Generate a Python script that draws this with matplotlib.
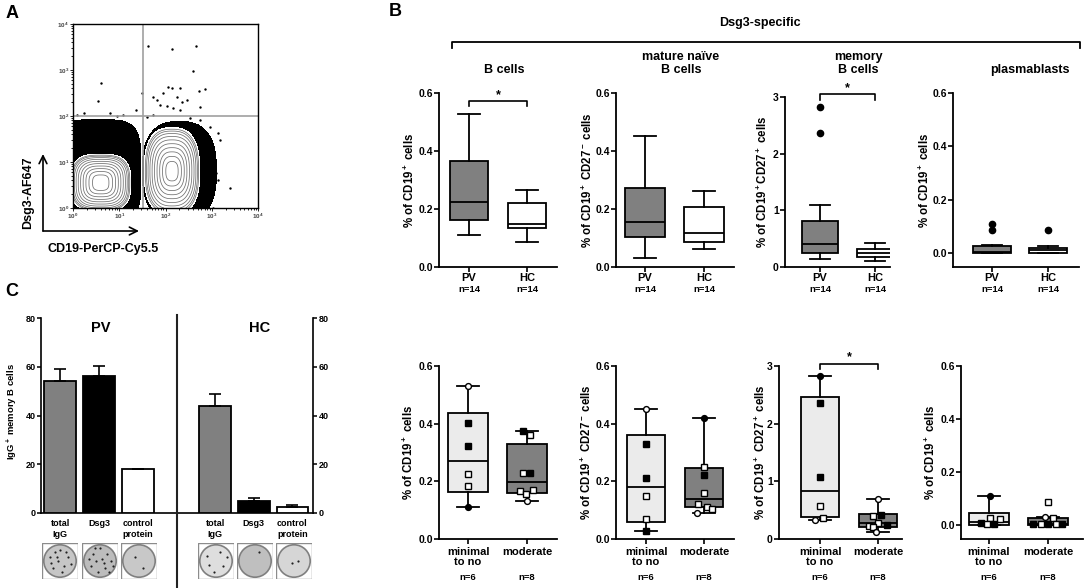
import numpy as np
import matplotlib
matplotlib.use('Agg')
from matplotlib import pyplot as plt
from matplotlib.patches import Circle, Rectangle
from matplotlib.lines import Line2D

plt.rcParams['font.family'] = ['Liberation Sans', 'DejaVu Sans']
plt.rcParams['font.weight'] = 'bold'
plt.rcParams['mathtext.fontset'] = 'custom'
plt.rcParams['mathtext.rm'] = 'Liberation Sans:bold'
plt.rcParams['mathtext.it'] = 'Liberation Sans:bold'
plt.rcParams['mathtext.bf'] = 'Liberation Sans:bold'
plt.rcParams['mathtext.default'] = 'rm'
plt.rcParams['axes.linewidth'] = 1.2

W, H = 1084, 588

# ---------------- data ----------------
# Panel A - flow plot, populations in log10 units:
# (centre x, centre y, half-width x, half-width y, shape exponent)
pop_dense = [(0.55, 0.80, 0.92, 1.12, 4.0), (2.30, 0.80, 0.80, 1.08, 2.6)]
pop_core = [(0.60, 0.55, 0.65, 0.62, 3.0), (2.14, 0.80, 0.60, 0.95, 2.6)]
# single events outside the dense area (log10 x, log10 y)
events_lx = [1.63, 2.15, 2.67, 2.59, 0.60, 0.55, 1.49, 2.06, 2.15, 2.31, 2.73, 2.85,
             1.72, 1.81, 1.95, 2.24, 2.35, 2.46, 2.03, 2.17, 2.31, 2.74, 1.88, 1.36,
             0.23, 0.80, 3.39, 3.03, 3.14, 2.96, 3.17, 3.10, 3.14, 3.07, 0.95, 1.09,
             0.09, 2.74, 2.53, 1.74, 1.59]
events_ly = [3.52, 3.45, 3.52, 2.97, 2.71, 2.33, 2.51, 2.63, 2.60, 2.60, 2.55, 2.58,
             2.41, 2.35, 2.50, 2.42, 2.31, 2.35, 2.21, 2.17, 2.13, 2.19, 2.24, 2.13,
             2.06, 2.06, 0.43, 0.00, 1.63, 1.77, 1.48, 0.76, 0.61, 1.05, 1.99, 2.03,
             2.03, 1.92, 1.95, 2.03, 1.97]
gate_x = 32
gate_y = 100

# Panel B - box plots (whisker low, q1, median, q3, whisker high)
top_groups = ['PV', 'HC']
top_n = ['n=14', 'n=14']
bot_groups = ['minimal\nto no', 'moderate']
bot_n = ['n=6', 'n=8']
title_line1 = ['', 'mature naïve', 'memory', '']
title_line2 = ['B cells', 'B cells', 'B cells', 'plasmablasts']
ylabels_top = [r'% of CD19$^+$ cells', r'% of CD19$^+$ CD27$^-$ cells',
               r'% of CD19$^+$CD27$^+$ cells', r'% of CD19$^+$ cells']
ylabels_bot = [r'% of CD19$^+$ cells', r'% of CD19$^+$ CD27$^-$ cells',
               r'% of CD19$^+$ CD27$^+$ cells', r'% of CD19$^+$ cells']

bcell_pv = [0.110, 0.163, 0.225, 0.365, 0.528]
bcell_hc = [0.087, 0.135, 0.150, 0.220, 0.267]
naive_pv = [0.032, 0.105, 0.154, 0.271, 0.452]
naive_hc = [0.062, 0.087, 0.117, 0.208, 0.262]
memory_pv = [0.14, 0.25, 0.41, 0.81, 1.09]
memory_hc = [0.11, 0.17, 0.25, 0.31, 0.43]
plasma_pv = [0.0, 0.0, 0.005, 0.026, 0.030]
plasma_hc = [0.0, 0.0, 0.010, 0.020, 0.025]
memory_pv_out = [2.83, 2.37]
plasma_pv_out = [0.110, 0.085]
plasma_hc_out = [0.088]

sev_bcell_min = [0.110, 0.164, 0.272, 0.438, 0.529]
sev_bcell_mod = [0.133, 0.161, 0.199, 0.329, 0.376]
sev_naive_min = [0.029, 0.060, 0.182, 0.361, 0.451]
sev_naive_mod = [0.090, 0.112, 0.138, 0.245, 0.420]
sev_memory_min = [0.33, 0.375, 0.83, 2.47, 2.83]
sev_memory_mod = [0.13, 0.20, 0.28, 0.43, 0.70]
sev_plasma_min = [0.0, 0.0, 0.010, 0.044, 0.110]
sev_plasma_mod = [0.0, 0.0, 0.005, 0.028, 0.030]

# individual patients: value, x jitter, filled (1) / open (0)
pts_bcell_min = [0.529, 0.404, 0.323, 0.225, 0.185, 0.110]
jit_bcell_min = [0, 0, 0, 0, 0, 0]
fill_bcell_min = [0, 1, 1, 0, 0, 1]
pts_bcell_mod = [0.375, 0.360, 0.230, 0.230, 0.165, 0.155, 0.170, 0.133]
jit_bcell_mod = [-0.07, 0.05, -0.07, 0.05, -0.12, -0.01, 0.10, 0.0]
fill_bcell_mod = [1, 0, 0, 1, 0, 0, 0, 0]
pts_naive_min = [0.451, 0.328, 0.210, 0.149, 0.068, 0.028]
jit_naive_min = [0, 0, 0, 0, 0, 0]
fill_naive_min = [0, 1, 1, 0, 0, 1]
pts_naive_mod = [0.420, 0.250, 0.222, 0.159, 0.120, 0.110, 0.090, 0.105]
jit_naive_mod = [0, 0, 0, 0, -0.10, 0.05, -0.12, 0.13]
fill_naive_mod = [1, 0, 1, 0, 0, 0, 0, 0]
pts_memory_min = [2.83, 2.36, 1.08, 0.57, 0.33, 0.37]
jit_memory_min = [0, 0, 0, 0, -0.09, 0.06]
fill_memory_min = [1, 1, 1, 0, 0, 0]
pts_memory_mod = [0.70, 0.40, 0.41, 0.27, 0.23, 0.25, 0.20, 0.13]
jit_memory_mod = [0, -0.08, 0.06, 0, -0.16, 0.15, -0.09, -0.03]
fill_memory_mod = [0, 0, 1, 0, 0, 1, 0, 0]
pts_plasma_min = [0.110, 0.025, 0.022, 0.008, 0.003, 0.003]
jit_plasma_min = [0.02, 0.02, 0.18, -0.13, -0.04, 0.08]
fill_plasma_min = [1, 0, 0, 1, 0, 1]
pts_plasma_mod = [0.085, 0.030, 0.028, 0.003, 0.003, 0.003, 0.003, 0.003]
jit_plasma_mod = [0, -0.05, 0.08, -0.25, -0.12, 0.0, 0.13, 0.24]
fill_plasma_mod = [0, 0, 0, 1, 0, 1, 0, 1]

# Panel C - ELISpot
c_labels = ['total\nIgG', 'Dsg3', 'control\nprotein']
pv_spots = [54.2, 56.2, 17.9]
pv_sem = [4.8, 4.1, 0.0]
hc_spots = [43.9, 4.9, 2.3]
hc_sem = [4.9, 1.4, 1.0]
bar_colors = ['#808080', 'black', 'white']
plate_face = ['#c6c6c6', '#bcbcbc', '#c8c8c8', '#dedede', '#bfbfbf', '#d6d6d6']
plate_spots_x = [[0.22, 0.50, 0.72, 0.62, 0.30, 0.45, 0.80, 0.35, 0.55, 0.25, 0.68, 0.42],
                 [0.30, 0.50, 0.70, 0.80, 0.65, 0.45, 0.25, 0.40, 0.55, 0.20, 0.75, 0.35, 0.60, 0.85],
                 [0.40, 0.62],
                 [0.25, 0.30, 0.60, 0.70, 0.45, 0.80],
                 [0.62],
                 [0.45, 0.60]]
plate_spots_y = [[0.62, 0.80, 0.60, 0.35, 0.30, 0.50, 0.42, 0.75, 0.20, 0.45, 0.75, 0.62],
                 [0.70, 0.85, 0.70, 0.50, 0.30, 0.20, 0.35, 0.50, 0.55, 0.55, 0.20, 0.85, 0.45, 0.35],
                 [0.60, 0.30],
                 [0.65, 0.40, 0.75, 0.35, 0.20, 0.60],
                 [0.75],
                 [0.45, 0.50]]

# ---------------- figure ----------------
fig = plt.figure(figsize=(W / 100, H / 100), dpi=100)


def px_axes(l, t, r, b):
    return fig.add_axes([l / W, 1 - b / H, (r - l) / W, (b - t) / H])


def ftext(x, y, s, **kw):
    kw.setdefault('ha', 'center')
    kw.setdefault('va', 'center')
    return fig.text(x / W, 1 - y / H, s, **kw)


def fline(xs, ys, **kw):
    fig.add_artist(Line2D([x / W for x in xs], [1 - y / H for y in ys], **kw))


# ---- panel A ----
axA = px_axes(73, 24, 258, 208)
lg = np.linspace(0, 4, 500)
LX, LY = np.meshgrid(lg, lg)


def radius(pops):
    r = np.full(LX.shape, 99.0)
    for cx, cy, sx, sy, p in pops:
        r = np.minimum(r, np.abs((LX - cx) / sx) ** p + np.abs((LY - cy) / sy) ** p)
    return r


axA.contourf(10 ** LX, 10 ** LY, radius(pop_dense), levels=[0, 1], colors='black')
rc = radius(pop_core)
axA.contourf(10 ** LX, 10 ** LY, rc, levels=[0, 1], colors='white')
axA.contour(10 ** LX, 10 ** LY, rc, levels=[0.02, 0.06, 0.12, 0.2, 0.3, 0.42, 0.55, 0.68, 0.8, 0.9],
            colors='#6e6e6e', linewidths=0.55)
axA.scatter(10 ** np.array(events_lx), 10 ** np.array(events_ly), s=3, c='black', lw=0)
axA.axvline(gate_x, color='#a0a0a0', lw=1.2)
axA.axhline(gate_y, color='#a0a0a0', lw=1.2)
axA.set_xscale('log')
axA.set_yscale('log')
axA.set_xlim(1, 1e4)
axA.set_ylim(1, 1e4)
dec = [1, 10, 100, 1000, 10000]
axA.set_xticks(dec)
axA.set_yticks(dec)
axA.set_xticklabels([r'$10^{%d}$' % i for i in range(5)])
axA.set_yticklabels([r'$10^{%d}$' % i for i in range(5)])
axA.tick_params(which='both', direction='out', labelsize=4.5, labelcolor='#444444', length=2, width=0.6, pad=1)
axA.tick_params(which='minor', length=1.2)
for s in axA.spines.values():
    s.set_linewidth(1.0)
axA.annotate('', xy=(43, H - 154), xytext=(43, H - 231), xycoords='figure pixels',
             arrowprops=dict(arrowstyle='->', lw=1.2, mutation_scale=14, shrinkA=0, shrinkB=0),
             annotation_clip=False)
axA.annotate('', xy=(139, H - 231), xytext=(43, H - 231), xycoords='figure pixels',
             arrowprops=dict(arrowstyle='->', lw=1.2, mutation_scale=14, shrinkA=0, shrinkB=0),
             annotation_clip=False)
ftext(28, 193, 'Dsg3-AF647', rotation=90, fontsize=9)
ftext(103, 249, 'CD19-PerCP-Cy5.5', fontsize=9)

# ---- panel B ----
# axis x, cat0 x, cat1 x, right end, top px, zero px, bottom px, ymax, label x
layout_top = [(439, 469, 527, 557, 93, 267, 267, 0.6, 410),
              (616, 645, 704, 734, 93, 267, 267, 0.6, 588),
              (785, 820, 875, 890, 97, 267, 267, 3.0, 763),
              (953, 992, 1048, 1079, 93, 253, 267, 0.6, 925)]
layout_bot = [(439, 468, 527, 557, 366, 539, 539, 0.6, 409),
              (616, 646, 704, 734, 366, 539, 539, 0.6, 587),
              (779, 820, 878, 902, 366, 539, 539, 3.0, 761),
              (961, 989, 1048, 1083, 366, 525, 539, 0.6, 931)]


def box_axes(lay, ylabel):
    axis_px, p0, p1, right_px, top_px, zero_px, bottom_px, ymax, lab_x = lay
    ax = px_axes(axis_px, top_px, right_px, bottom_px)
    ftext(lab_x, (top_px + bottom_px) / 2, ylabel, rotation=90, fontsize=8.3)
    return ax, lay


def style_box_axes(ax, lay):
    axis_px, p0, p1, right_px, top_px, zero_px, bottom_px, ymax, lab_x = lay
    u = p1 - p0
    ax.set_xlim((axis_px - p0) / u, (right_px - p0) / u)
    per = (zero_px - top_px) / ymax
    ax.set_ylim(-(bottom_px - zero_px) / per, ymax)
    ax.spines[['top', 'right']].set_visible(False)
    ax.spines[['left', 'bottom']].set_linewidth(1.3)
    ax.tick_params(direction='out', length=3.5, width=1.2, labelsize=7.5, pad=1)
    ax.set_xticks([0, 1])
    ax.set_xticklabels([])
    if ymax == 3.0:
        ax.set_yticks([0, 1, 2, 3])
        ax.set_yticklabels(['0', '1', '2', '3'])
    else:
        ax.set_yticks([0, 0.2, 0.4, 0.6])
        ax.set_yticklabels(['0.0', '0.2', '0.4', '0.6'])


def draw_boxes(ax, stats, colors, fliers):
    st = [dict(whislo=s[0], q1=s[1], med=s[2], q3=s[3], whishi=s[4], fliers=f)
          for s, f in zip(stats, fliers)]
    bp = ax.bxp(st, positions=[0, 1], widths=0.67, capwidths=0.37, patch_artist=True,
                manage_ticks=False,
                boxprops=dict(linewidth=1.3, edgecolor='black'),
                medianprops=dict(color='black', linewidth=1.3),
                whiskerprops=dict(linewidth=1.3), capprops=dict(linewidth=1.3),
                flierprops=dict(marker='o', markerfacecolor='black', markeredgecolor='black',
                                markersize=4.5, linestyle='none'))
    for patch, c in zip(bp['boxes'], colors):
        patch.set_facecolor(c)


def draw_points(ax, pos, vals, jit, fill, lo, hi):
    for v, j, f in zip(vals, jit, fill):
        mk = 'o' if (v == lo or v == hi) else 's'
        ax.plot(pos + j, v, marker=mk, ms=4.2, mew=1.0, mec='black',
                mfc='black' if f else 'white', ls='none', zorder=5, clip_on=False)


def group_labels(ax, groups, ns, off1, off_n, va):
    for i, (g, n) in enumerate(zip(groups, ns)):
        ax.annotate(g, xy=(i, 0), xycoords=ax.get_xaxis_transform(), xytext=(0, -off1),
                    textcoords='offset points', ha='center', va=va, fontsize=8, linespacing=1.0)
        ax.annotate(n, xy=(i, 0), xycoords=ax.get_xaxis_transform(), xytext=(0, -off_n),
                    textcoords='offset points', ha='center', va='center', fontsize=6.8)


def star(ax, y0, y1, ys):
    ax.plot([0, 0, 1, 1], [y0, y1, y1, y0], color='black', lw=1.2, clip_on=False)
    ax.text(0.5, ys, '*', ha='center', va='center', fontsize=9)


top_stats = [(bcell_pv, bcell_hc, [], []), (naive_pv, naive_hc, [], []),
             (memory_pv, memory_hc, memory_pv_out, []),
             (plasma_pv, plasma_hc, plasma_pv_out, plasma_hc_out)]
for k in range(4):
    ax, lay = box_axes(layout_top[k], ylabels_top[k])
    a, b, fa, fb = top_stats[k]
    draw_boxes(ax, [a, b], ['#808080', 'white'], [fa, fb])
    style_box_axes(ax, lay)
    group_labels(ax, top_groups, top_n, 8, 16.5, 'center')
    if k == 0:
        star(ax, 0.555, 0.572, 0.594)
    if k == 2:
        star(ax, 2.95, 3.05, 3.16)

bot_stats = [(sev_bcell_min, sev_bcell_mod, pts_bcell_min, jit_bcell_min, fill_bcell_min,
              pts_bcell_mod, jit_bcell_mod, fill_bcell_mod),
             (sev_naive_min, sev_naive_mod, pts_naive_min, jit_naive_min, fill_naive_min,
              pts_naive_mod, jit_naive_mod, fill_naive_mod),
             (sev_memory_min, sev_memory_mod, pts_memory_min, jit_memory_min, fill_memory_min,
              pts_memory_mod, jit_memory_mod, fill_memory_mod),
             (sev_plasma_min, sev_plasma_mod, pts_plasma_min, jit_plasma_min, fill_plasma_min,
              pts_plasma_mod, jit_plasma_mod, fill_plasma_mod)]
for k in range(4):
    ax, lay = box_axes(layout_bot[k], ylabels_bot[k])
    a, b, pa, ja, fa, pb, jb, fb = bot_stats[k]
    draw_boxes(ax, [a, b], ['#ebebeb', '#808080'], [[], []])
    style_box_axes(ax, lay)
    draw_points(ax, 0, pa, ja, fa, a[0], a[4])
    draw_points(ax, 1, pb, jb, fb, b[0], b[4])
    group_labels(ax, bot_groups, bot_n, 5.5, 27.5, 'top')
    if k == 2:
        star(ax, 2.95, 3.04, 3.16)

# header of panel B
fline([452, 452, 1080, 1080], [48, 42, 42, 48], color='black', lw=1.3)
ftext(760, 23, 'Dsg3-specific', fontsize=9)
title_x = [504, 681, 858, 1030]
for tx, t1, t2 in zip(title_x, title_line1, title_line2):
    if t1:
        ftext(tx, 57, t1, fontsize=9)
    ftext(tx, 70, t2, fontsize=9)

# ---- panel C ----
axC = px_axes(41, 318, 313.3, 513)
x_pv = [0, 1, 2]
x_hc = [4, 5, 6]
for xs, vals, err in [(x_pv, pv_spots, pv_sem), (x_hc, hc_spots, hc_sem)]:
    axC.bar(xs, vals, width=0.82, color=bar_colors, edgecolor='black', linewidth=1.3,
            yerr=[[0] * 3, err], capsize=4, error_kw=dict(lw=1.2, capthick=1.2), zorder=3)
axC.set_xlim(-0.5, 6.54)
axC.set_ylim(0, 80)
axC.set_yticks([0, 20, 40, 60, 80])
axC.set_xticks(x_pv + x_hc)
axC.set_xticklabels(c_labels * 2, fontsize=6.5, linespacing=1.3)
axC.tick_params(axis='x', length=0, pad=4)
axC.tick_params(axis='y', direction='out', length=3, width=1.1, labelsize=6.5, pad=1)
axC.spines[['top', 'right']].set_visible(False)
axR = axC.twinx()
axR.set_ylim(0, 80)
axR.set_yticks([0, 20, 40, 60, 80])
axR.tick_params(axis='y', direction='out', length=3, width=1.1, labelsize=6.5, pad=1)
axR.spines[['top', 'left', 'bottom']].set_visible(False)
ftext(12, 412, r'IgG$^+$ memory B cells', rotation=90, fontsize=6.8)
ftext(101, 328, 'PV', fontsize=10.5)
ftext(260, 328, 'HC', fontsize=10.5)
fline([176.7, 176.7], [315, 588], color='#222222', lw=1.5)

plate_left = [42, 82, 121, 198, 237, 276]
for i, l in enumerate(plate_left):
    axp = px_axes(l, 543, l + 36, 579)
    axp.set_xlim(0, 1)
    axp.set_ylim(0, 1)
    axp.axis('off')
    axp.add_patch(Rectangle((0.01, 0.01), 0.98, 0.98, facecolor='white', edgecolor='#8c8c8c', lw=1.0))
    axp.add_patch(Circle((0.5, 0.5), 0.45, facecolor=plate_face[i], edgecolor='#808080', lw=1.2))
    axp.scatter(plate_spots_x[i], plate_spots_y[i], s=2.5, c='#202020', lw=0)

# panel letters
ftext(12, 14, 'A', fontsize=13)
ftext(395, 11, 'B', fontsize=13)
ftext(12, 292, 'C', fontsize=13)

fig.savefig('out.png', dpi=100)
